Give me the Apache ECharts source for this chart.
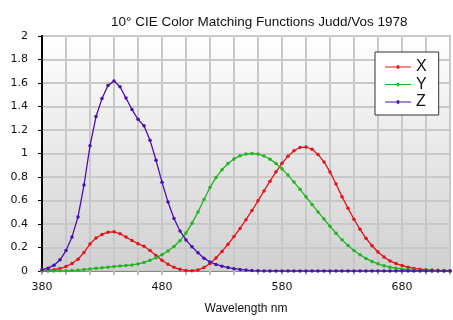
<!DOCTYPE html>
<html>
<head>
<meta charset="utf-8">
<script src="https://cdn.jsdelivr.net/npm/echarts@6/dist/echarts.min.js"></script>
<style>
  html, body { margin: 0; padding: 0; background: #fff; }
  #cmf { width: 453px; height: 320px; }
</style>
</head>
<body>
<div id="cmf"></div>
<script>
// wavelengths, 5 nm steps
var wavelengths = [
  380, 385, 390, 395, 400, 405, 410, 415, 420, 425, 430, 435, 440, 445, 450, 455, 460, 465, 470, 475,
  480, 485, 490, 495, 500, 505, 510, 515, 520, 525, 530, 535, 540, 545, 550, 555, 560, 565, 570, 575,
  580, 585, 590, 595, 600, 605, 610, 615, 620, 625, 630, 635, 640, 645, 650, 655, 660, 665, 670, 675,
  680, 685, 690, 695, 700, 705, 710, 715, 720
];

var xBar = [
  0.0027, 0.0053, 0.0108, 0.0208, 0.0380, 0.0632, 0.0999, 0.1582, 0.2295, 0.2811, 0.3110, 0.3307, 0.3334, 0.3167, 0.2888, 0.2597, 0.2328, 0.2100, 0.1748, 0.1329,
  0.0919, 0.0570, 0.0317, 0.0146, 0.0048, 0.0023, 0.0093, 0.0293, 0.0638, 0.1108, 0.1669, 0.2277, 0.2927, 0.3623, 0.4364, 0.5151, 0.5975, 0.6812, 0.7643, 0.8439,
  0.9164, 0.9770, 1.0230, 1.0513, 1.0550, 1.0362, 0.9924, 0.9286, 0.8435, 0.7398, 0.6329, 0.5335, 0.4406, 0.3545, 0.2786, 0.2149, 0.1616, 0.1182, 0.0858, 0.0631,
  0.0458, 0.0321, 0.0222, 0.0156, 0.0111, 0.0079, 0.0057, 0.0040, 0.0028
];

var yBar = [
  0.0002, 0.0004, 0.0008, 0.0015, 0.0028, 0.0047, 0.0074, 0.0118, 0.0175, 0.0227, 0.0273, 0.0326, 0.0379, 0.0424, 0.0468, 0.0521, 0.0600, 0.0729, 0.0910, 0.1128,
  0.1390, 0.1699, 0.2080, 0.2581, 0.3230, 0.4054, 0.5030, 0.6081, 0.7100, 0.7951, 0.8620, 0.9151, 0.9540, 0.9800, 0.9950, 1.0001, 0.9950, 0.9788, 0.9520, 0.9156,
  0.8700, 0.8162, 0.7570, 0.6948, 0.6310, 0.5665, 0.5030, 0.4417, 0.3810, 0.3205, 0.2650, 0.2170, 0.1750, 0.1381, 0.1070, 0.0817, 0.0610, 0.0443, 0.0320, 0.0235,
  0.0170, 0.0119, 0.0082, 0.0058, 0.0041, 0.0029, 0.0021, 0.0015, 0.0010
];

var zBar = [
  0.0123, 0.0242, 0.0493, 0.0951, 0.1741, 0.2901, 0.4605, 0.7317, 1.0658, 1.3146, 1.4672, 1.5796, 1.6166, 1.5682, 1.4717, 1.3740, 1.2917, 1.2356, 1.1138, 0.9422,
  0.7560, 0.5864, 0.4467, 0.3411, 0.2644, 0.2059, 0.1545, 0.1092, 0.0766, 0.0562, 0.0414, 0.0294, 0.0200, 0.0130, 0.0079, 0.0040, 0.0016, 0.0008, 0.0004, 0.0002,
  0.0001, 0, 0, 0, 0, 0, 0, 0, 0, 0, 0, 0, 0, 0, 0, 0, 0, 0, 0, 0,
  0, 0, 0, 0, 0, 0, 0, 0, 0
];

var seriesNames = ['X', 'Y', 'Z'];
var seriesColors = ['#e3141b', '#22b422', '#4a0fb0'];
var xLabels = [380, 480, 580, 680];

// legend glyph: thin line with a small square dot in the middle
var legendIcon = 'path://M0,4.4 L26,4.4 L26,5.6 L0,5.6 Z M11.8,3.2 L14.2,3.2 L14.2,6.8 L11.8,6.8 Z';

function pairs(values) {
  var out = [];
  for (var i = 0; i < wavelengths.length; i++) {
    out.push([wavelengths[i], values[i]]);
  }
  return out;
}

function makeSeries(name, values, color) {
  return {
    name: name,
    type: 'line',
    data: pairs(values),
    symbol: 'circle',
    symbolSize: 3.5,
    showSymbol: true,
    color: color,
    lineStyle: { width: 1.3, color: color },
    itemStyle: { color: color },
    animation: false
  };
}

var myChart = echarts.init(document.getElementById('cmf'));

var option = {
  backgroundColor: '#ffffff',
  title: {
    text: '10° CIE Color Matching Functions Judd/Vos 1978',
    left: 106,
    top: 10,
    textStyle: {
      fontFamily: 'Liberation Sans',
      fontSize: 13.5,
      fontWeight: 'normal',
      color: '#111'
    }
  },
  legend: {
    orient: 'vertical',
    left: 375,
    top: 52,
    padding: [7, 12, 5, 10],
    itemGap: 1.5,
    itemWidth: 26,
    itemHeight: 10,
    backgroundColor: '#fff',
    borderColor: '#333',
    borderWidth: 1,
    data: seriesNames.map(function (n) { return { name: n, icon: legendIcon }; }),
    textStyle: {
      fontFamily: 'Liberation Sans',
      fontSize: 16,
      lineHeight: 16,
      color: '#111'
    }
  },
  grid: {
    left: 42,
    right: -4,
    top: 36,
    bottom: 46,
    show: true,
    borderColor: '#b4b4b4',
    borderWidth: 2,
    backgroundColor: {
      type: 'linear',
      x: 0, y: 0, x2: 0, y2: 1,
      colorStops: [
        { offset: 0, color: '#ffffff' },
        { offset: 1, color: '#d0d0d0' }
      ]
    }
  },
  xAxis: {
    type: 'value',
    min: 380,
    max: 720,
    interval: 20,
    name: 'Wavelength nm',
    nameLocation: 'middle',
    nameGap: 32,
    nameTextStyle: {
      fontFamily: 'Liberation Sans',
      fontSize: 12,
      color: '#111'
    },
    axisLine: { show: true, onZero: false, lineStyle: { color: '#888', width: 1 } },
    axisTick: { show: true, length: 4, lineStyle: { color: '#bdbdbd', width: 2 } },
    axisLabel: {
      margin: 11,
      fontFamily: 'DejaVu Sans',
      fontSize: 11,
      color: '#111',
      formatter: function (v) {
        return xLabels.indexOf(v) >= 0 ? String(v) : '';
      }
    },
    splitLine: { show: true, lineStyle: { color: '#c8c8c8', width: 2 } }
  },
  yAxis: {
    type: 'value',
    min: 0,
    max: 2,
    interval: 0.2,
    axisLine: { show: true, lineStyle: { color: '#000', width: 2 } },
    axisTick: { show: true, length: 4, lineStyle: { color: '#000', width: 1 } },
    axisLabel: {
      margin: 14,
      fontFamily: 'DejaVu Sans',
      fontSize: 11,
      color: '#111'
    },
    splitLine: { show: true, lineStyle: { color: '#c8c8c8', width: 2 } }
  },
  series: [
    makeSeries(seriesNames[0], xBar, seriesColors[0]),
    makeSeries(seriesNames[1], yBar, seriesColors[1]),
    makeSeries(seriesNames[2], zBar, seriesColors[2])
  ]
};

myChart.setOption(option);

window.addEventListener('resize', function () {
  myChart.resize();
});
</script>
</body>
</html>
